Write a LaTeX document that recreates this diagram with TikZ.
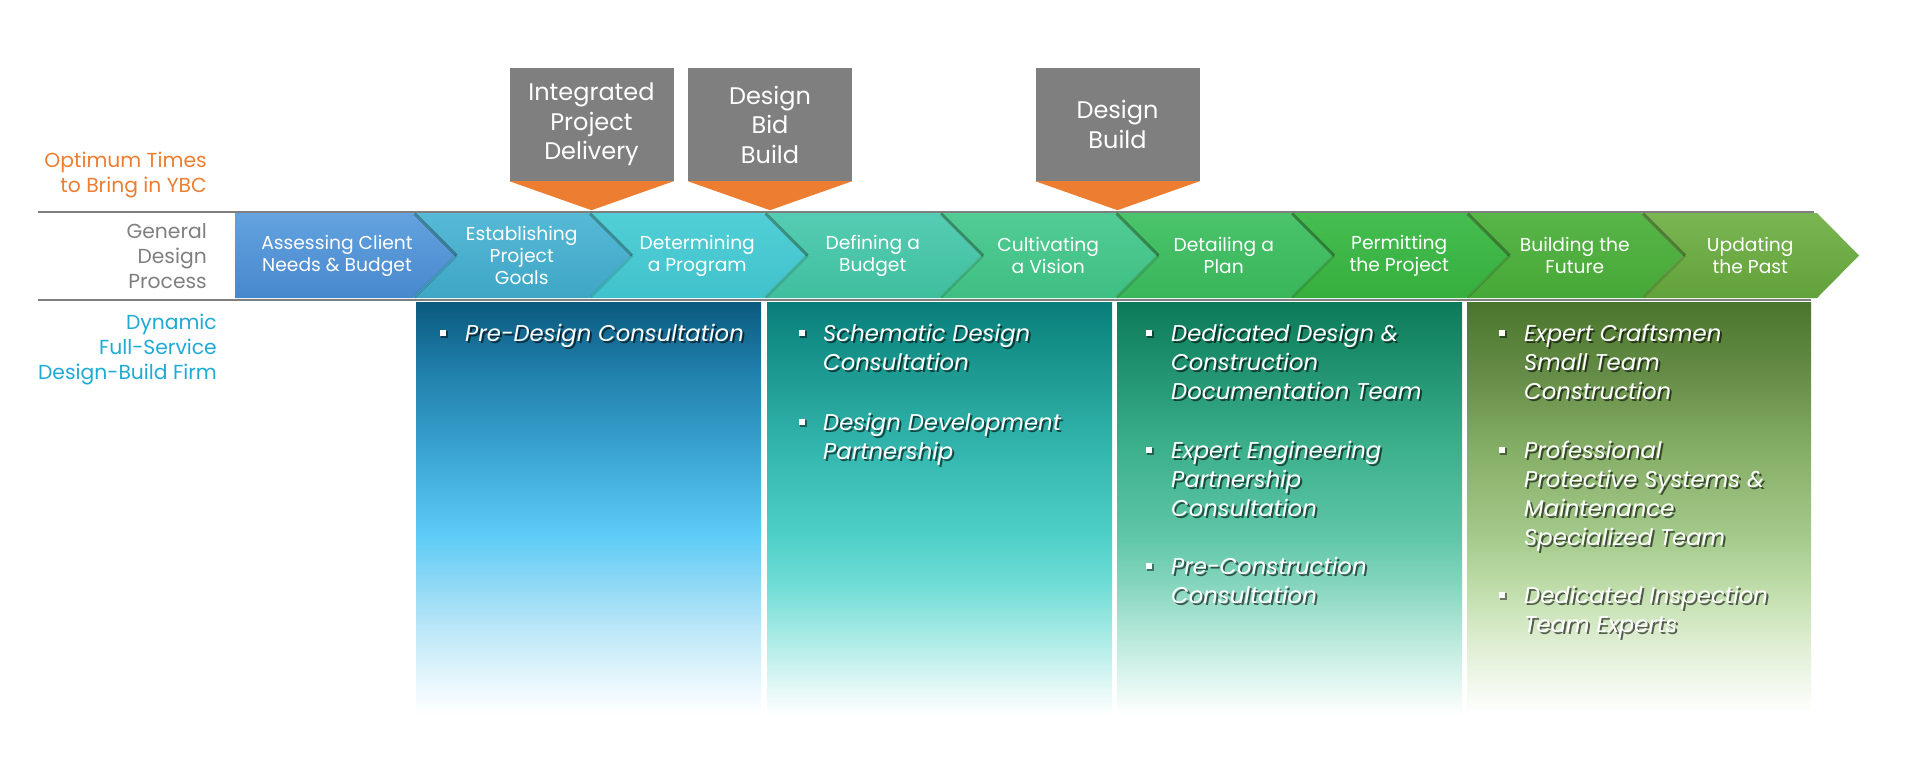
\documentclass[tikz,border=0pt]{standalone}
\usepackage{fontspec}
\setmainfont{Poppins}
\definecolor{lineg}{HTML}{7F7F7F}
\definecolor{boxg}{HTML}{7F7F7F}
\definecolor{orng}{HTML}{ED7D31}
\definecolor{cyanl}{HTML}{1FAAD4}
\definecolor{ch0t}{HTML}{64A3DF}\definecolor{ch0b}{HTML}{4787CD}
\definecolor{ch1t}{HTML}{56B9D6}\definecolor{ch1b}{HTML}{3FA6C6}
\definecolor{ch2t}{HTML}{52CFD6}\definecolor{ch2b}{HTML}{40C2CC}
\definecolor{ch3t}{HTML}{55CDB4}\definecolor{ch3b}{HTML}{3FBE9E}
\definecolor{ch4t}{HTML}{52CC95}\definecolor{ch4b}{HTML}{3EBF82}
\definecolor{ch5t}{HTML}{4BC46C}\definecolor{ch5b}{HTML}{39B55A}
\definecolor{ch6t}{HTML}{45BD50}\definecolor{ch6b}{HTML}{36AF3E}
\definecolor{ch7t}{HTML}{58B548}\definecolor{ch7b}{HTML}{46A836}
\definecolor{ch8t}{HTML}{7AB552}\definecolor{ch8b}{HTML}{62A23A}
% panel colours (top -> bottom)
\definecolor{pa7}{HTML}{0B5A7E}\definecolor{pa6}{HTML}{1F7FAA}\definecolor{pa5}{HTML}{3AA3D0}
\definecolor{pa4}{HTML}{5BCBF5}\definecolor{pa3}{HTML}{8ED8F5}\definecolor{pa2}{HTML}{C0E8F8}\definecolor{pa1}{HTML}{E8F7FD}
\definecolor{pb7}{HTML}{087E7B}\definecolor{pb6}{HTML}{1C9990}\definecolor{pb5}{HTML}{33B6AE}
\definecolor{pb4}{HTML}{4DCFC8}\definecolor{pb3}{HTML}{6EDCD5}\definecolor{pb2}{HTML}{A5EAE4}\definecolor{pb1}{HTML}{DDF7F4}
\definecolor{pc7}{HTML}{0B7A58}\definecolor{pc6}{HTML}{219370}\definecolor{pc5}{HTML}{3DB08C}
\definecolor{pc4}{HTML}{5DC6A6}\definecolor{pc3}{HTML}{84D5BD}\definecolor{pc2}{HTML}{B4E7D8}\definecolor{pc1}{HTML}{E2F6F0}
\definecolor{pd7}{HTML}{4B752C}\definecolor{pd6}{HTML}{638B45}\definecolor{pd5}{HTML}{85AE66}
\definecolor{pd4}{HTML}{A3C98A}\definecolor{pd3}{HTML}{BCDBA6}\definecolor{pd2}{HTML}{D9EBCB}\definecolor{pd1}{HTML}{F1F8EC}
\newcommand\mkpanelshading[2]{%
\pgfdeclareverticalshading{#1}{100bp}{color(0bp)=(white); color(25bp)=(white); color(28.9bp)=(#21); color(34.9bp)=(#22); color(41bp)=(#23); color(47bp)=(#24); color(57.1bp)=(#25); color(66.8bp)=(#26); color(75bp)=(#27); color(100bp)=(#27)}}
\mkpanelshading{panA}{pa}
\mkpanelshading{panB}{pb}
\mkpanelshading{panC}{pc}
\mkpanelshading{panD}{pd}
\newcommand\plines[4]{%
  \foreach \t [count=\i from 0] in {#4} {
    \node[pshadow] (#1s\i) at (#2+2, #3+\i*29.3+2) {\t};
    \node[ptext] (#1\i) at (#2, #3+\i*29.3) {\t};
  }}
\newcommand\pbullet[3]{%
  \node[bshadow] (#1s) at (#2+1.5,#3+1.5) {};
  \node[bullet] (#1) at (#2,#3) {};}
\begin{document}
\begin{tikzpicture}[x=1pt,y=-1pt,
  gline/.style={draw=lineg,line width=2.5pt},
  chtext/.style={text=white,font=\fontsize{18.7}{22}\selectfont,align=center,inner sep=0pt},
  lefttext/.style={font=\fontsize{20.3}{25}\selectfont,align=right,anchor=east,inner sep=0pt},
  graybox/.style={fill=boxg,text=white,font=\fontsize{24}{29.5}\selectfont,align=center,
    minimum width=164pt,minimum height=113pt,inner sep=0pt},
  ptext/.style={text=white,font=\itshape\fontsize{22.8}{29}\selectfont,anchor=base west,inner sep=0pt},
  pshadow/.style={ptext,text=black,text opacity=0.6},
  bullet/.style={fill=white,minimum size=6.5pt,inner sep=0pt},
  bshadow/.style={fill=black,fill opacity=0.45,minimum size=6.5pt,inner sep=0pt},
  tipshadow/.style={draw=black,draw opacity=0.3,line width=3pt}]
\path[use as bounding box] (0,0) rectangle (1920,777);

% horizontal lines
\coordinate (tl) at (38,212); \coordinate (tr) at (1814,212);
\coordinate (bl) at (38,300); \coordinate (br) at (1811,300);
\draw[gline] (tl) -- (tr);
\draw[gline] (bl) -- (br);

% panels
\shade[shading=panA] (416,302) rectangle (761,715);
\shade[shading=panB] (767,302) rectangle (1112,715);
\shade[shading=panC] (1117,302) rectangle (1462,715);
\shade[shading=panD] (1467,302) rectangle (1811,715);

% chevrons
\foreach \k/\txt in {0/{Assessing Client\\Needs \& Budget},1/{Establishing\\Project\\Goals},
  2/{Determining\\a Program},3/{Defining a\\Budget},4/{Cultivating\\a Vision},5/{Detailing a\\Plan},
  6/{Permitting\\the Project},7/{Building the\\Future},8/{Updating\\the Past}} {
  \pgfmathsetmacro\R{413+\k*175.5}
  \pgfmathsetmacro\L{413+(\k-1)*175.5}
  \ifnum\k=0
    \shade[top color=ch\k t,bottom color=ch\k b] (235,213) -- (\R,213) -- (\R+42,255.5) -- (\R,298) -- (235,298) -- cycle;
    \node[chtext] (c\k) at (337,255.5) {\txt};
  \else
    \shade[top color=ch\k t,bottom color=ch\k b] (\L,213) -- (\R,213) -- (\R+42,255.5) -- (\R,298) -- (\L,298) -- (\L+42,255.5) -- cycle;
    \node[chtext] (c\k) at ({(\L+\R+42)/2},255.5) {\txt};
  \fi
}
\foreach \k in {0,...,7} {
  \pgfmathsetmacro\R{413+\k*175.5}
  \draw[tipshadow] (\R+1.5,213.5) -- (\R+43.5,255.5);
  \draw[tipshadow,draw opacity=0.12] (\R+43.5,255.5) -- (\R+1.5,297.5);
}

% left labels
\node[lefttext,text=orng] (opt) at (207,175) {Optimum Times\\to Bring in YBC};
\node[lefttext,text=lineg] (gdp) at (207,256) {General\\Design\\Process};
\node[lefttext,text=cyanl] (dyn) at (217,350) {Dynamic\\Full-Service\\Design-Build Firm};

% gray boxes with orange pointers
\node[graybox] (ipd) at (591.5,124.5) {Integrated\\Project\\Delivery};
\node[graybox] (dbb) at (770,124.5) {Design\\Bid\\Build};
\node[graybox] (db) at (1117.5,124.5) {Design\\Build};
\foreach \b in {ipd,dbb,db} {
  \fill[orng] (\b.south west) -- (\b.south east) -- ([yshift=-29pt]\b.south) -- cycle;
}

% panel texts
\pbullet{b1}{443}{333}
\plines{p1a}{465}{341}{Pre-Design Consultation}

\pbullet{b2}{802}{333}
\plines{p2a}{823}{341}{Schematic Design,Consultation}
\pbullet{b3}{802}{422}
\plines{p2b}{823}{430}{Design Development,Partnership}

\pbullet{b4}{1149}{333}
\plines{p3a}{1171}{341}{Dedicated Design \&,Construction,Documentation Team}
\pbullet{b5}{1149}{450}
\plines{p3b}{1171}{458}{Expert Engineering,Partnership,Consultation}
\pbullet{b6}{1149}{566}
\plines{p3c}{1171}{574}{Pre-Construction,Consultation}

\pbullet{b7}{1502}{333}
\plines{p4a}{1524}{341}{Expert Craftsmen,Small Team,Construction}
\pbullet{b8}{1502}{450}
\plines{p4b}{1524}{458}{Professional,Protective Systems \&,Maintenance,Specialized Team}
\pbullet{b9}{1502}{595}
\plines{p4c}{1524}{603}{Dedicated Inspection,Team Experts}
\end{tikzpicture}
\end{document}
